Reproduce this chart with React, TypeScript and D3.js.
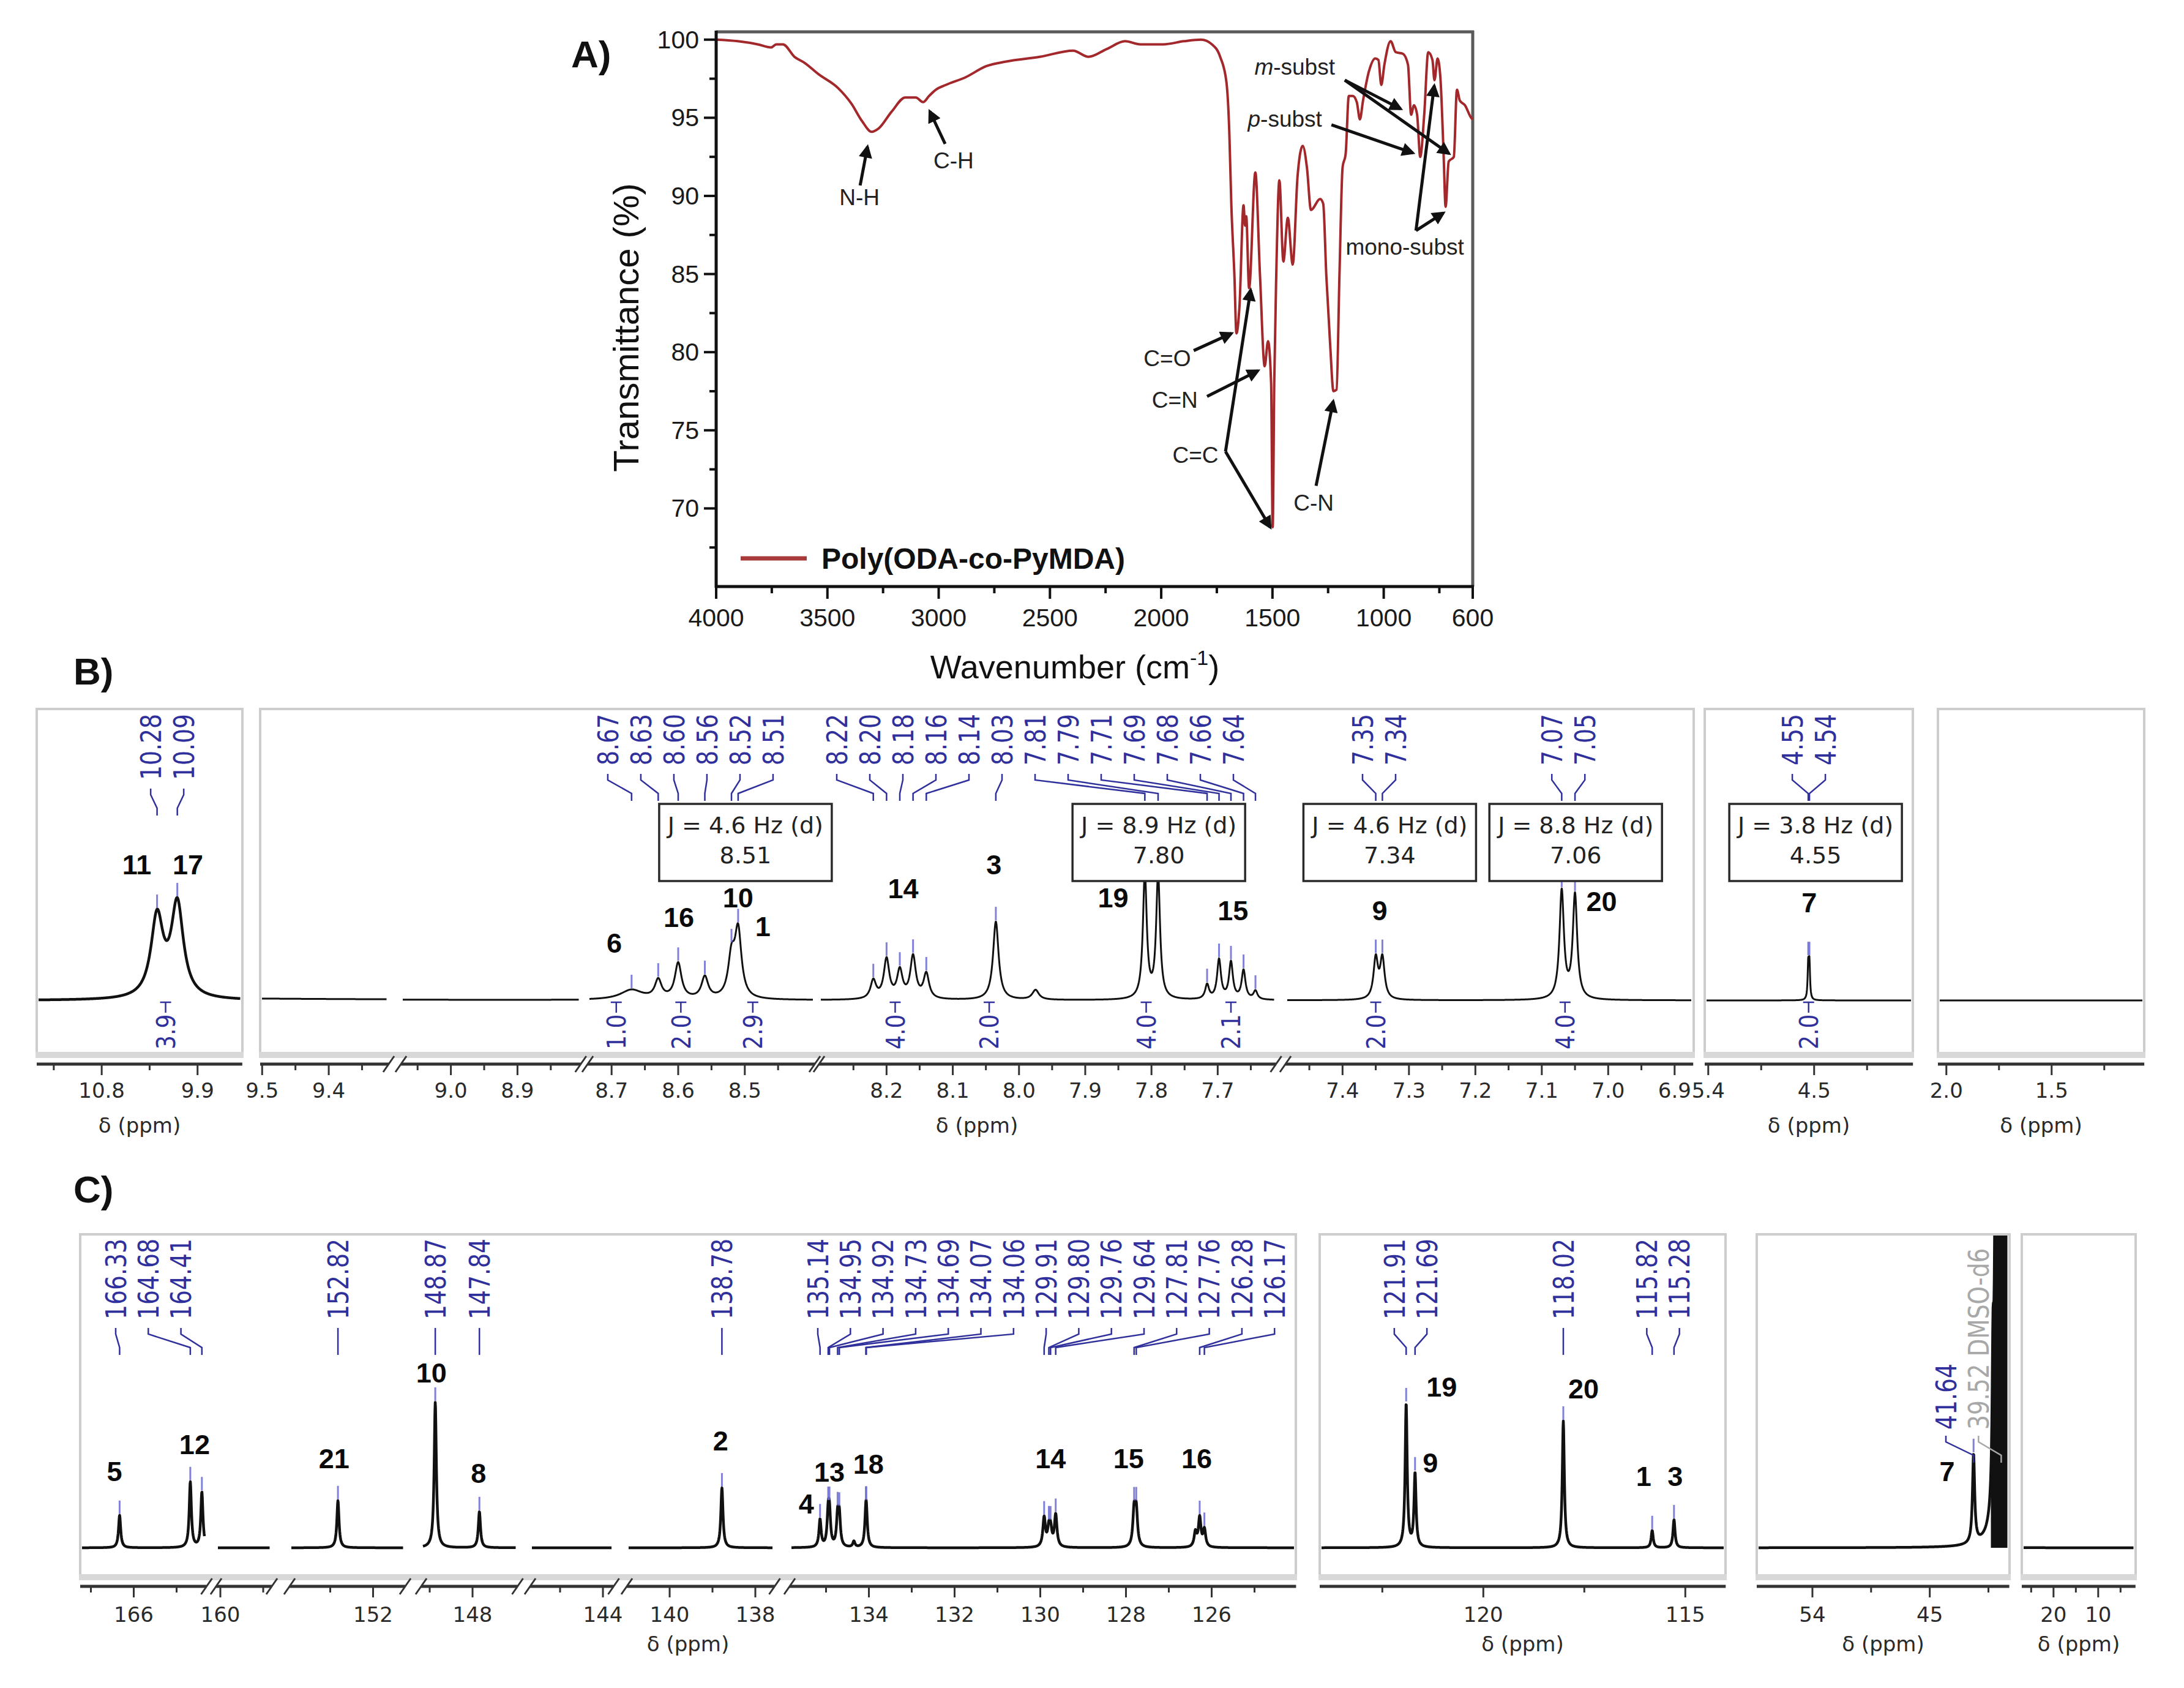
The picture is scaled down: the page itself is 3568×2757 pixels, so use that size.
import React, { useEffect, useRef } from 'react';
import * as d3 from 'd3';

const WIDTH = 3568;
const HEIGHT = 2757;

// ---------------- A) FT-IR ----------------
const irWavenumber = [4000, 3903, 3813, 3753, 3730, 3700, 3648, 3601, 3541, 3452, 3392, 3345, 3301, 3271, 3211, 3150, 3103, 3070, 3043, 3012, 2968, 2878, 2787, 2696, 2545, 2396, 2327, 2245, 2162, 2094, 1990, 1898, 1821, 1772, 1735, 1707, 1694, 1685, 1671, 1662, 1648, 1630, 1623, 1618, 1605, 1577, 1556, 1535, 1520, 1506, 1499, 1492, 1483, 1469, 1451, 1431, 1409, 1387, 1364, 1345, 1327, 1286, 1272, 1258, 1240, 1226, 1212, 1199, 1185, 1171, 1157, 1139, 1121, 1107, 1093, 1066, 1038, 1024, 1011, 997, 969, 946, 914, 891, 877, 864, 850, 836, 818, 800, 781, 772, 758, 745, 731, 722, 708, 685, 671, 658, 635, 607, 600];
const irTransmittance = [100.0, 99.9, 99.7, 99.5, 99.7, 99.7, 98.9, 98.5, 97.8, 96.9, 95.9, 94.8, 94.1, 94.3, 95.4, 96.3, 96.3, 96.0, 96.4, 96.8, 97.1, 97.6, 98.3, 98.6, 98.9, 99.3, 98.9, 99.4, 99.9, 99.7, 99.7, 99.9, 100.0, 99.7, 98.9, 97.3, 94.1, 89.5, 84.9, 81.2, 83.0, 89.4, 88.1, 88.7, 84.1, 91.5, 84.9, 79.1, 80.7, 78.0, 68.8, 78.0, 84.9, 91.0, 85.8, 88.6, 85.6, 91.3, 93.2, 91.8, 89.1, 89.8, 89.5, 84.9, 80.3, 77.5, 77.6, 84.9, 91.8, 92.7, 96.4, 96.4, 96.0, 94.9, 96.1, 98.0, 98.8, 98.7, 97.1, 98.4, 99.9, 99.2, 99.1, 98.4, 95.2, 95.8, 95.2, 92.5, 95.2, 99.2, 98.7, 97.4, 98.8, 97.5, 92.7, 89.3, 92.2, 92.5, 96.8, 96.1, 95.8, 95.0, 94.9];
const irXTicks = [4000, 3500, 3000, 2500, 2000, 1500, 1000, 600];
const irYTicks = [70, 75, 80, 85, 90, 95, 100];

const irLabelText = ['N-H', 'C-H', 'C=O', 'C=N', 'C=C', 'C-N', 'm-subst', 'p-subst', 'mono-subst'];
const irLabelWn = [3356, 2933, 1973, 1939, 1846, 1315, 1400, 1444, 905];
const irLabelT = [89.42, 91.77, 79.12, 76.46, 72.9, 69.84, 97.76, 94.43, 86.25];
const irArrowFrom = [[3353, 90.67], [2971, 93.33], [1854, 80.1], [1794, 77.17], [1711, 73.64], [1711, 73.64], [1304, 71.45], [1175, 97.41], [1175, 97.41], [1235, 94.55], [855, 87.78], [855, 87.78]];
const irArrowTo = [[3320, 93.14], [3040, 95.41], [1684, 81.2], [1565, 78.81], [1598, 83.98], [1510, 68.79], [1227, 76.85], [924, 95.57], [707, 92.71], [869, 92.75], [773, 97.05], [732, 88.91]];

// ---------------- B) 1H NMR ----------------
const h1PeakPpm = [10.28, 10.09, 8.67, 8.63, 8.60, 8.56, 8.52, 8.51, 8.22, 8.20, 8.18, 8.16, 8.14, 8.035, 7.975, 7.81, 7.79, 7.716, 7.698, 7.68, 7.661, 7.643, 7.35, 7.34, 7.07, 7.05, 4.55, 4.54];
const h1PeakHeight = [61, 71, 7.4, 14, 27, 16.5, 29, 50, 14, 30, 21, 32, 19, 59.5, 7.4, 95, 94, 11, 30, 28, 22, 6.5, 30.7, 30.7, 82, 79, 26.4, 26.4];
const h1PeakHwhm = [0.069, 0.069, 0.02, 0.006, 0.006, 0.006, 0.006, 0.006, 0.005, 0.005, 0.005, 0.005, 0.005, 0.005, 0.006, 0.0035, 0.0035, 0.0035, 0.0035, 0.0035, 0.0035, 0.0035, 0.004, 0.004, 0.004, 0.004, 0.006, 0.006];

const h1PickPpm = [10.28, 10.09, 8.67, 8.63, 8.60, 8.56, 8.52, 8.51, 8.22, 8.20, 8.18, 8.16, 8.14, 8.035, 7.81, 7.79, 7.716, 7.698, 7.68, 7.661, 7.643, 7.35, 7.34, 7.07, 7.05, 4.55, 4.54];
const h1PickText = ['10.28', '10.09', '8.67', '8.63', '8.60', '8.56', '8.52', '8.51', '8.22', '8.20', '8.18', '8.16', '8.14', '8.03', '7.81', '7.79', '7.71', '7.69', '7.68', '7.66', '7.64', '7.35', '7.34', '7.07', '7.05', '4.55', '4.54'];

const h1IntegralPpm = [10.2, 8.693, 8.596, 8.488, 8.187, 8.045, 7.808, 7.68, 7.35, 7.065, 4.547];
const h1IntegralText = ['3.9', '1.0', '2.0', '2.9', '4.0', '2.0', '4.0', '2.1', '2.0', '4.0', '2.0'];

const h1AtomText = ['11', '17', '6', '16', '10', '1', '14', '3', '19', '15', '9', '20', '7'];
const h1AtomPpm = [10.47, 9.99, 8.696, 8.599, 8.51, 8.473, 8.175, 8.038, 7.858, 7.677, 7.344, 7.01, 4.541];
const h1AtomLevel = [103, 103, 43.7, 62.8, 77.7, 56, 85, 103, 77.7, 68, 68, 75, 74];

const h1JText = ['J = 4.6 Hz (d)', 'J = 8.9 Hz (d)', 'J = 4.6 Hz (d)', 'J = 8.8 Hz (d)', 'J = 3.8 Hz (d)'];
const h1JShift = ['8.51', '7.80', '7.34', '7.06', '4.55'];

// ---------------- C) 13C NMR ----------------
const c13PeakPpm = [166.33, 164.68, 164.41, 152.82, 148.87, 147.84, 138.78, 135.14, 134.95, 134.92, 134.73, 134.69, 134.35, 134.07, 134.06, 129.91, 129.80, 129.76, 129.64, 127.81, 127.76, 126.38, 126.28, 126.17, 121.91, 121.69, 118.02, 115.82, 115.28, 41.64, 40.15, 39.94, 39.73, 39.52, 39.31, 39.10, 38.89];
const c13PeakHeight = [22.3, 45, 38, 32.4, 100, 24.8, 41.2, 18.9, 20.5, 20.5, 20, 20, 4, 16.8, 16.8, 20, 11, 11, 22, 23.8, 23.8, 10, 20, 12, 98.7, 50.4, 87, 11.8, 19.3, 61, 92, 277, 555, 647, 555, 277, 92];
const c13PeakHwhm = [0.03, 0.03, 0.03, 0.03, 0.03, 0.03, 0.03, 0.03, 0.03, 0.03, 0.03, 0.03, 0.03, 0.03, 0.03, 0.035, 0.035, 0.035, 0.035, 0.035, 0.035, 0.035, 0.035, 0.035, 0.03, 0.03, 0.03, 0.03, 0.03, 0.1, 0.08, 0.08, 0.08, 0.08, 0.08, 0.08, 0.08];
// solvent (DMSO-d6) multiplet range drawn as a filled, off-scale block
const c13SolventRange = [40.32, 38.9];

const c13PickPpm = [166.33, 164.68, 164.41, 152.82, 148.87, 147.84, 138.78, 135.14, 134.95, 134.92, 134.73, 134.69, 134.07, 134.06, 129.91, 129.80, 129.76, 129.64, 127.81, 127.76, 126.28, 126.17, 121.91, 121.69, 118.02, 115.82, 115.28, 41.64, 39.52];
const c13PickText = ['166.33', '164.68', '164.41', '152.82', '148.87', '147.84', '138.78', '135.14', '134.95', '134.92', '134.73', '134.69', '134.07', '134.06', '129.91', '129.80', '129.76', '129.64', '127.81', '127.76', '126.28', '126.17', '121.91', '121.69', '118.02', '115.82', '115.28', '41.64', '39.52 DMSO-d6'];

const c13AtomText = ['5', '12', '21', '10', '8', '2', '4', '13', '18', '14', '15', '16', '19', '9', '20', '1', '3', '7'];
const c13AtomPpm = [166.45, 164.58, 152.91, 148.96, 147.86, 138.81, 135.46, 134.92, 134.01, 129.76, 127.94, 126.35, 121.03, 121.31, 117.52, 116.03, 115.25, 43.67];
const c13AtomLevel = [52.5, 71, 61, 120, 51, 73.5, 30, 52, 57.5, 61, 61, 61, 110.5, 58, 109, 49, 49, 52.5];

// ---------------- layout ----------------
const FONT_IR = "'Liberation Sans', Arial, sans-serif";
const FONT_NMR = "'DejaVu Sans', Verdana, sans-serif";
const BLUE = '#30309c';
const BLUE_MARK = '#6c6cd2';

type Seg = { from: number; to: number; x0: number; k: number };
type Frame = { x0: number; x1: number; segs: Seg[]; anchor: number; step: number; labelStep: number; digits: number };

const h1Frames: Frame[] = [
  { x0: 60, x1: 396, segs: [{ from: 11.41, to: 9.48, x0: 60, k: 174 }], anchor: 9.9, step: 0.45, labelStep: 0.9, digits: 1 },
  {
    x0: 425, x1: 2767, segs: [
      { from: 9.503, to: 9.31, x0: 425, k: 1088 },
      { from: 9.075, to: 8.805, x0: 655, k: 1088 },
      { from: 8.736, to: 8.395, x0: 960, k: 1088 },
      { from: 8.302, to: 7.612, x0: 1338, k: 1082 },
      { from: 7.486, to: 6.872, x0: 2100, k: 1085 },
    ], anchor: 0, step: 0.05, labelStep: 0.1, digits: 1,
  },
  { x0: 2785, x1: 3125, segs: [{ from: 5.43, to: 3.66, x0: 2785, k: 192.2 }], anchor: 4.5, step: 0.45, labelStep: 0.9, digits: 1 },
  { x0: 3166, x1: 3503, segs: [{ from: 2.04, to: 1.06, x0: 3166, k: 344 }], anchor: 1.5, step: 0.25, labelStep: 0.5, digits: 1 },
];

const c13Frames: Frame[] = [
  {
    x0: 131, x1: 2117, segs: [
      { from: 167.25, to: 164.3, x0: 131, k: 70 },
      { from: 160.1, to: 158.8, x0: 353, k: 70 },
      { from: 153.95, to: 151.25, x0: 473, k: 70 },
      { from: 149.2, to: 146.95, x0: 688, k: 70 },
      { from: 145.7, to: 143.75, x0: 866, k: 70 },
      { from: 141.0, to: 137.55, x0: 1024, k: 70 },
      { from: 135.85, to: 124.03, x0: 1290, k: 70 },
    ], anchor: 0, step: 1, labelStep: 2, digits: 0,
  },
  { x0: 2156, x1: 2819, segs: [{ from: 124.05, to: 114.0, x0: 2156, k: 66 }], anchor: 0, step: 2.5, labelStep: 5, digits: 0 },
  { x0: 2870, x1: 3283, segs: [{ from: 58.27, to: 38.9, x0: 2870, k: 21.3 }], anchor: 0, step: 4.5, labelStep: 9, digits: 0 },
  { x0: 3303, x1: 3489, segs: [{ from: 27.1, to: 1.65, x0: 3303, k: 7.3 }], anchor: 0, step: 5, labelStep: 10, digits: 0 },
];

// label groups: index range of picks; start = x of the first label, otherwise centred on the peaks
const h1LabelGroups = [
  { first: 0, last: 1 }, { first: 2, last: 7 }, { first: 8, last: 20, start: 1367 },
  { first: 21, last: 22 }, { first: 23, last: 24 }, { first: 25, last: 26 },
];
const c13LabelGroups = [
  { first: 0, last: 2, start: 189 }, { first: 3, last: 3 }, { first: 4, last: 4 }, { first: 5, last: 5 },
  { first: 6, last: 6 }, { first: 7, last: 21, start: 1336 }, { first: 22, last: 23 }, { first: 24, last: 24 },
  { first: 25, last: 26 }, { first: 27, last: 28, start: 3179, bottom: 2335 },
];

const segScale = (s: Seg) => d3.scaleLinear().domain([s.from, s.to]).range([s.x0, s.x0 + (s.from - s.to) * s.k]);

function makeXOf(frames: Frame[]) {
  return (ppm: number) => {
    for (const f of frames) for (const s of f.segs) if (ppm <= s.from && ppm >= s.to) return segScale(s)(ppm);
    return NaN;
  };
}

function makeSpectrum(ppms: number[], hs: number[], ws: number[]) {
  return (ppm: number) => {
    let s = 0;
    for (let i = 0; i < ppms.length; i++) {
      const d = (ppm - ppms[i]) / ws[i];
      s += hs[i] / (1 + d * d);
    }
    return s;
  };
}

function estWidth(str: string) {
  let w = 0;
  for (const ch of str) {
    if (/[0-9]/.test(ch)) w += 0.636;
    else if (ch === '.' || ch === ' ') w += 0.318;
    else if (ch === '-') w += 0.361;
    else if (ch === 'M') w += 0.863;
    else if (ch === 'D') w += 0.77;
    else if (ch === 'O') w += 0.787;
    else w += 0.63;
  }
  return w;
}

function drawIR(svg: any) {
  const x = d3.scaleLinear().domain([4000, 600]).range([1170, 2406]);
  const y = d3.scaleLinear().domain([65, 100.5]).range([958, 52]);
  const g = svg.append('g');

  g.append('line').attr('x1', 1170).attr('x2', 2408).attr('y1', 52).attr('y2', 52).attr('stroke', '#5a5a5a').attr('stroke-width', 5);
  g.append('line').attr('x1', 2406).attr('x2', 2406).attr('y1', 50).attr('y2', 958).attr('stroke', '#5a5a5a').attr('stroke-width', 5);

  const pts = irWavenumber.map((w, i) => [w, irTransmittance[i]] as [number, number]);
  g.append('path')
    .attr('d', d3.line<[number, number]>().x(d => x(d[0])).y(d => y(d[1])).curve(d3.curveMonotoneX)(pts))
    .attr('fill', 'none').attr('stroke', '#a3282b').attr('stroke-width', 4).attr('stroke-linejoin', 'round');

  g.append('line').attr('x1', 1170).attr('x2', 1170).attr('y1', 50).attr('y2', 960).attr('stroke', '#111').attr('stroke-width', 5);
  g.append('line').attr('x1', 1168).attr('x2', 2408).attr('y1', 958).attr('y2', 958).attr('stroke', '#111').attr('stroke-width', 5);

  for (let v = 4000; v >= 750; v -= 250) {
    const major = v % 500 === 0;
    g.append('line').attr('x1', x(v)).attr('x2', x(v)).attr('y1', 958).attr('y2', 958 + (major ? 20 : 11)).attr('stroke', '#111').attr('stroke-width', 4);
  }
  g.append('line').attr('x1', x(600)).attr('x2', x(600)).attr('y1', 958).attr('y2', 978).attr('stroke', '#111').attr('stroke-width', 4);
  irXTicks.forEach(v => {
    g.append('text').attr('x', x(v)).attr('y', 1023).attr('text-anchor', 'middle')
      .attr('font-family', FONT_IR).attr('font-size', 41).attr('fill', '#1a1a1a').text(v);
  });
  for (let v = 67.5; v <= 100; v += 2.5) {
    const major = v % 5 === 0;
    g.append('line').attr('x1', 1170).attr('x2', 1170 - (major ? 20 : 11)).attr('y1', y(v)).attr('y2', y(v)).attr('stroke', '#111').attr('stroke-width', 4);
  }
  irYTicks.forEach(v => {
    g.append('text').attr('x', 1142).attr('y', y(v) + 14).attr('text-anchor', 'end')
      .attr('font-family', FONT_IR).attr('font-size', 41).attr('fill', '#1a1a1a').text(v);
  });

  g.append('text').attr('transform', 'translate(1043,535) rotate(-90)').attr('text-anchor', 'middle')
    .attr('font-family', FONT_IR).attr('font-size', 58).attr('fill', '#111').text('Transmittance (%)');

  const xt = g.append('text').attr('x', 1756).attr('y', 1108).attr('text-anchor', 'middle')
    .attr('font-family', FONT_IR).attr('font-size', 54).attr('fill', '#111');
  xt.append('tspan').text('Wavenumber (cm');
  xt.append('tspan').attr('dy', -22).attr('font-size', 34).text('-1');
  xt.append('tspan').attr('dy', 22).text(')');

  g.append('text').attr('x', 933).attr('y', 110).attr('font-family', FONT_IR).attr('font-weight', 700)
    .attr('font-size', 62).attr('fill', '#111').text('A)');

  // legend
  g.append('line').attr('x1', 1210).attr('x2', 1318).attr('y1', 912).attr('y2', 912).attr('stroke', '#a83a3c').attr('stroke-width', 7);
  g.append('text').attr('x', 1342).attr('y', 929).attr('font-family', FONT_IR).attr('font-weight', 700)
    .attr('font-size', 48).attr('fill', '#111').text('Poly(ODA-co-PyMDA)');

  // annotations
  irArrowFrom.forEach((f, i) => {
    const t = irArrowTo[i];
    g.append('line').attr('x1', x(f[0])).attr('y1', y(f[1])).attr('x2', x(t[0])).attr('y2', y(t[1]))
      .attr('stroke', '#111').attr('stroke-width', 5).attr('marker-end', 'url(#irArrow)');
  });
  irLabelText.forEach((txt, i) => {
    const t = g.append('text').attr('x', x(irLabelWn[i])).attr('y', y(irLabelT[i])).attr('text-anchor', 'middle')
      .attr('font-family', FONT_IR).attr('font-size', 37).attr('fill', '#222');
    if (txt === 'm-subst' || txt === 'p-subst') {
      t.append('tspan').attr('font-style', 'italic').text(txt[0]);
      t.append('tspan').text(txt.slice(1));
    } else t.text(txt);
  });
}

function drawNmr(svg: any, cfg: any) {
  const { frames, top, bottom, axisY, tickBase, titleBase, yScale, spec, lineWidth, id,
    pickPpm, pickText, groups, labelTop, atomText, atomPpm, atomLevel, fillRange } = cfg;
  const xOf = makeXOf(frames);
  const g = svg.append('g');
  const fmtF = (d: number) => (d === 0 ? d3.format('d') : d3.format('.1f'));

  frames.forEach((f: Frame, fi: number) => {
    g.append('rect').attr('x', f.x0).attr('y', top).attr('width', f.x1 - f.x0).attr('height', bottom - top)
      .attr('fill', 'none').attr('stroke', '#cdcdcd').attr('stroke-width', 4);
    g.append('rect').attr('x', f.x0 - 2).attr('y', bottom - 4).attr('width', f.x1 - f.x0 + 4).attr('height', 10).attr('fill', '#d8d8d8');
    const cid = `${id}-clip-${fi}`;
    g.append('clipPath').attr('id', cid).append('rect').attr('x', f.x0).attr('y', top + 2).attr('width', f.x1 - f.x0).attr('height', bottom - top - 2);
    const sg = g.append('g').attr('clip-path', `url(#${cid})`);
    const fmt = fmtF(f.digits);

    f.segs.forEach((s, si) => {
      const sc = segScale(s);
      const [ra, rb] = sc.range();
      const pts: [number, number][] = [];
      for (let px = ra + 3; px <= rb - 3; px += 0.5) pts.push([px, yScale(spec(sc.invert(px)))]);
      if (fillRange) {
        const fillPts = pts.filter(p => {
          const ppm = sc.invert(p[0]);
          return ppm <= fillRange[0] && ppm >= fillRange[1];
        });
        if (fillPts.length) {
          sg.append('path').attr('d', d3.area().x(d => d[0]).y0(yScale(0)).y1(d => d[1])(fillPts))
            .attr('fill', '#111');
        }
      }
      sg.append('path').attr('d', d3.line()(pts)).attr('fill', 'none').attr('stroke', '#111')
        .attr('stroke-width', fi === 0 && id === 'h1' ? lineWidth + 1.5 : lineWidth).attr('stroke-linejoin', 'round');

      g.append('line').attr('x1', ra).attr('x2', rb).attr('y1', axisY).attr('y2', axisY).attr('stroke', '#333').attr('stroke-width', 5);
      const internalStart = si > 0;
      const internalEnd = si < f.segs.length - 1;
      if (internalStart) g.append('line').attr('x1', ra - 9).attr('y1', axisY + 13).attr('x2', ra + 9).attr('y2', axisY - 13).attr('stroke', '#333').attr('stroke-width', 3);
      if (internalEnd) g.append('line').attr('x1', rb - 9).attr('y1', axisY + 13).attr('x2', rb + 9).attr('y2', axisY - 13).attr('stroke', '#333').attr('stroke-width', 3);

      const nLo = Math.ceil((s.to - f.anchor) / f.step - 1e-9);
      const nHi = Math.floor((s.from - f.anchor) / f.step + 1e-9);
      for (let n = nLo; n <= nHi; n++) {
        const v = +(f.anchor + n * f.step).toFixed(6);
        const px = sc(v);
        if ((internalStart && px - ra < 6) || (internalEnd && rb - px < 6)) continue;
        const q = (v - f.anchor) / f.labelStep;
        const labelled = Math.abs(q - Math.round(q)) < 1e-6;
        g.append('line').attr('x1', px).attr('x2', px).attr('y1', axisY).attr('y2', axisY + (labelled ? 18 : 10)).attr('stroke', '#333').attr('stroke-width', 3);
        if (labelled) {
          g.append('text').attr('x', px).attr('y', tickBase).attr('text-anchor', 'middle')
            .attr('font-family', FONT_NMR).attr('font-size', 34).attr('fill', '#2a2a2a').text(fmt(v));
        }
      }
    });
    g.append('text').attr('x', (f.x0 + f.x1) / 2).attr('y', titleBase).attr('text-anchor', 'middle')
      .attr('font-family', FONT_NMR).attr('font-size', 34).attr('fill', '#2a2a2a').text('δ (ppm)');
  });

  // peak picking labels, connectors and markers
  const fsL = 46;
  const gap = id === 'h1' ? 54 : 53.3;
  groups.forEach((gr: any) => {
    const idx = d3.range(gr.first, gr.last + 1);
    const pxs = idx.map(i => xOf(pickPpm[i]));
    const n = idx.length;
    const start = gr.start !== undefined ? gr.start : (d3.mean(pxs) as number) - ((n - 1) / 2) * gap;
    idx.forEach((i, j) => {
      const lx = start + j * gap;
      const txt = pickText[i];
      const len = estWidth(txt) * fsL * 0.82;
      const isSolvent = txt.indexOf('DMSO') >= 0;
      const col = isSolvent ? '#a8a8a8' : BLUE;
      let connTop: number;
      if (gr.bottom !== undefined) {
        g.append('text').attr('transform', `translate(${lx + 0.365 * fsL},${gr.bottom}) rotate(-90)`)
          .attr('text-anchor', 'start').attr('font-family', FONT_NMR).attr('font-size', fsL)
          .attr('textLength', len).attr('lengthAdjust', 'spacingAndGlyphs').attr('fill', col).text(txt);
        connTop = gr.bottom + 10;
      } else {
        g.append('text').attr('transform', `translate(${lx + 0.365 * fsL},${labelTop}) rotate(-90)`)
          .attr('text-anchor', 'end').attr('font-family', FONT_NMR).attr('font-size', fsL)
          .attr('textLength', len).attr('lengthAdjust', 'spacingAndGlyphs').attr('fill', col).text(txt);
        connTop = labelTop + len + 14;
      }
      const px = pxs[j];
      g.append('path').attr('d', `M${lx},${connTop} V${connTop + 10} L${px},${connTop + 32} V${connTop + 44}`)
        .attr('fill', 'none').attr('stroke', col).attr('stroke-width', 2.5);
      const apex = yScale(spec(pickPpm[i]));
      if (apex > top + 40) {
        g.append('line').attr('x1', px).attr('x2', px).attr('y1', apex - 24).attr('y2', apex - 2)
          .attr('stroke', BLUE_MARK).attr('stroke-width', 3).attr('opacity', 0.85);
      }
    });
  });

  atomText.forEach((t: string, i: number) => {
    g.append('text').attr('x', xOf(atomPpm[i])).attr('y', yScale(atomLevel[i])).attr('text-anchor', 'middle')
      .attr('dominant-baseline', 'central').attr('font-family', FONT_IR).attr('font-weight', 700)
      .attr('font-size', 45).attr('fill', '#0a0a0a').text(t);
  });
  return { g, xOf };
}

export default function App() {
  const ref = useRef<SVGSVGElement>(null);

  useEffect(() => {
    if (!ref.current) return;
    const svg = d3.select(ref.current);
    svg.selectAll('*').remove();
    svg.append('rect').attr('width', WIDTH).attr('height', HEIGHT).attr('fill', '#fff');
    const defs = svg.append('defs');
    defs.append('marker').attr('id', 'irArrow').attr('viewBox', '0 0 10 10').attr('refX', 8).attr('refY', 5)
      .attr('markerWidth', 5).attr('markerHeight', 4.4).attr('orient', 'auto')
      .append('path').attr('d', 'M0,0 L10,5 L0,10 z').attr('fill', '#111');

    drawIR(svg);

    // ---- 1H ----
    const h1Y = d3.scaleLinear().domain([0, 100]).range([1634, 1419]);
    const h1Spec = makeSpectrum(h1PeakPpm, h1PeakHeight, h1PeakHwhm);
    const { g: hg, xOf: hx } = drawNmr(svg, {
      frames: h1Frames, top: 1158, bottom: 1722, axisY: 1738, tickBase: 1793, titleBase: 1850,
      yScale: h1Y, spec: h1Spec, lineWidth: 3, id: 'h1', pickPpm: h1PickPpm, pickText: h1PickText,
      groups: h1LabelGroups, labelTop: 1166, atomText: h1AtomText, atomPpm: h1AtomPpm, atomLevel: h1AtomLevel,
    });
    h1IntegralPpm.forEach((p, i) => {
      const px = hx(p);
      hg.append('line').attr('x1', px - 9).attr('x2', px + 9).attr('y1', 1637).attr('y2', 1637).attr('stroke', BLUE).attr('stroke-width', 2.5);
      hg.append('line').attr('x1', px).attr('x2', px).attr('y1', 1637).attr('y2', 1654).attr('stroke', BLUE).attr('stroke-width', 2.5);
      const len = estWidth(h1IntegralText[i]) * 42 * 0.86;
      hg.append('text').attr('transform', `translate(${px + 0.365 * 42},1714) rotate(-90)`).attr('text-anchor', 'start')
        .attr('font-family', FONT_NMR).attr('font-size', 42).attr('textLength', len).attr('lengthAdjust', 'spacingAndGlyphs')
        .attr('fill', BLUE).text(h1IntegralText[i]);
    });
    h1JText.forEach((t, i) => {
      const cx = hx(+h1JShift[i]) + 12;
      hg.append('rect').attr('x', cx - 141).attr('y', 1313).attr('width', 282).attr('height', 126)
        .attr('fill', '#fff').attr('stroke', '#2a2a2a').attr('stroke-width', 3.5);
      hg.append('text').attr('x', cx).attr('y', 1361).attr('text-anchor', 'middle').attr('font-family', FONT_NMR)
        .attr('font-size', 38).attr('fill', '#222').text(t);
      hg.append('text').attr('x', cx).attr('y', 1410).attr('text-anchor', 'middle').attr('font-family', FONT_NMR)
        .attr('font-size', 38).attr('fill', '#222').text(h1JShift[i]);
    });
    hg.append('text').attr('x', 120).attr('y', 1118).attr('font-family', FONT_IR).attr('font-weight', 700)
      .attr('font-size', 62).attr('fill', '#111').text('B)');

    // ---- 13C ----
    const c13Y = d3.scaleLinear().domain([0, 100]).range([2528, 2290]);
    const c13Spec = makeSpectrum(c13PeakPpm, c13PeakHeight, c13PeakHwhm);
    const { g: cg } = drawNmr(svg, {
      frames: c13Frames, top: 2016, bottom: 2575, axisY: 2591, tickBase: 2649, titleBase: 2697,
      yScale: c13Y, spec: c13Spec, lineWidth: 4.5, id: 'c13', pickPpm: c13PickPpm, pickText: c13PickText,
      groups: c13LabelGroups, labelTop: 2023, atomText: c13AtomText, atomPpm: c13AtomPpm, atomLevel: c13AtomLevel,
      fillRange: c13SolventRange,
    });
    cg.append('text').attr('x', 120).attr('y', 1964).attr('font-family', FONT_IR).attr('font-weight', 700)
      .attr('font-size', 62).attr('fill', '#111').text('C)');
  }, []);

  return (
    <svg
      ref={ref}
      width={WIDTH}
      height={HEIGHT}
      viewBox={`0 0 ${WIDTH} ${HEIGHT}`}
      style={{ position: 'absolute', left: 0, top: 0, display: 'block' }}
    />
  );
}
